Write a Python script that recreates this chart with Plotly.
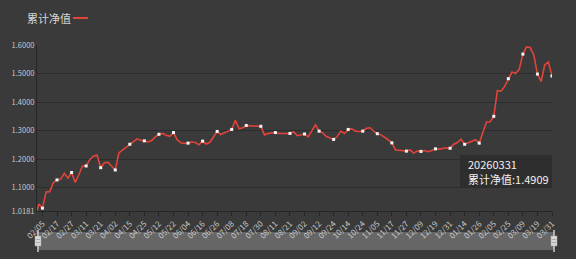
import plotly.graph_objects as go

# ---------------- data ----------------
tick_labels = ["02/05", "02/17", "02/27", "03/11", "03/21", "04/02", "04/15", "04/25",
               "05/12", "05/22", "06/04", "06/16", "06/26", "07/08", "07/18", "07/30",
               "08/11", "08/21", "09/02", "09/12", "09/24", "10/14", "10/24", "11/05",
               "11/17", "11/27", "12/09", "12/19", "12/31", "01/14", "01/26", "02/05",
               "02/25", "03/09", "03/19", "03/31"]

# trading-day index of each sampled value
days = [0] + list(range(1, 284, 2))

nav = [1.0181, 1.043, 1.028, 1.085, 1.086, 1.118, 1.127, 1.130, 1.150, 1.133,
       1.153, 1.118, 1.145, 1.176, 1.176, 1.198, 1.210, 1.214, 1.170, 1.187,
       1.189, 1.176, 1.162, 1.222, 1.232, 1.242, 1.252, 1.264, 1.271, 1.266,
       1.264, 1.260, 1.265, 1.278, 1.287, 1.290, 1.284, 1.280, 1.293, 1.268,
       1.257, 1.255, 1.256, 1.260, 1.258, 1.250, 1.263, 1.253, 1.259, 1.280,
       1.297, 1.286, 1.291, 1.298, 1.304, 1.336, 1.306, 1.310, 1.318, 1.316,
       1.316, 1.315, 1.315, 1.285, 1.290, 1.292, 1.293, 1.290, 1.289, 1.290,
       1.290, 1.296, 1.282, 1.285, 1.288, 1.278, 1.297, 1.320, 1.298, 1.292,
       1.279, 1.273, 1.269, 1.279, 1.298, 1.290, 1.304, 1.306, 1.298, 1.297,
       1.298, 1.308, 1.310, 1.298, 1.289, 1.285, 1.278, 1.268, 1.257, 1.232,
       1.231, 1.230, 1.228, 1.232, 1.221, 1.228, 1.227, 1.230, 1.226, 1.230,
       1.236, 1.235, 1.237, 1.240, 1.238, 1.252, 1.258, 1.270, 1.252, 1.258,
       1.264, 1.268, 1.256, 1.296, 1.330, 1.331, 1.350, 1.440, 1.438, 1.455,
       1.482, 1.505, 1.500, 1.515, 1.568, 1.593, 1.591, 1.565, 1.498, 1.472,
       1.530, 1.540, 1.4909]

y_ticks = [1.0181, 1.1, 1.2, 1.3, 1.4, 1.5, 1.6]
series_name = "累计净值"
last_date = "20260331"

# ---------------- figure ----------------
W, H = 576, 259
L, R, T, B = 37, 24, 45, 48
plot_w = W - L - R
plot_h = H - T - B

def px_x(px):
    return (px - L) / plot_w

def px_y(py):
    return (H - B - py) / plot_h

BG = "#3a3a3a"
RED = "#e2443a"
FONT = "Noto Sans CJK SC, Roboto, sans-serif"

tick_days = [3 + 8 * k for k in range(len(tick_labels))]
mark_x = [d for d in days if (d - 3) % 8 == 0]
mark_y = [v for d, v in zip(days, nav) if (d - 3) % 8 == 0]

fig = go.Figure()
fig.add_trace(go.Scatter(x=days, y=nav, mode="lines", name=series_name,
                         line=dict(color=RED, width=1.6), showlegend=False,
                         hoverinfo="skip"))
fig.add_trace(go.Scatter(x=mark_x, y=mark_y, mode="markers", showlegend=False,
                         marker=dict(symbol="square", size=3, color="#f4f4f4",
                                     line=dict(width=0)),
                         hoverinfo="skip"))

shapes = []
# legend line
shapes.append(dict(type="line", xref="paper", yref="paper",
                   x0=px_x(73), x1=px_x(88), y0=px_y(18), y1=px_y(18),
                   line=dict(color=RED, width=2)))
# tooltip box
shapes.append(dict(type="rect", xref="paper", yref="paper",
                   x0=px_x(460), x1=px_x(552), y0=px_y(188), y1=px_y(155),
                   fillcolor="rgba(44,44,44,0.88)", line=dict(width=0), layer="above"))
# data zoom slider bar
shapes.append(dict(type="rect", xref="paper", yref="paper",
                   x0=px_x(38), x1=px_x(554), y0=px_y(250), y1=px_y(232),
                   fillcolor="#666666", line=dict(width=0), layer="below"))
for hx in (38, 554):
    shapes.append(dict(type="line", xref="paper", yref="paper",
                       x0=px_x(hx), x1=px_x(hx), y0=px_y(252), y1=px_y(230),
                       line=dict(color="#cfcfcf", width=1.5)))
    shapes.append(dict(type="rect", xref="paper", yref="paper",
                       x0=px_x(hx - 3), x1=px_x(hx + 3), y0=px_y(246), y1=px_y(236),
                       fillcolor="#d8d8d8", line=dict(color="#aaaaaa", width=0.5)))
    for ly in (239.5, 242.5):
        shapes.append(dict(type="line", xref="paper", yref="paper",
                           x0=px_x(hx - 2), x1=px_x(hx + 2), y0=px_y(ly), y1=px_y(ly),
                           line=dict(color="#888888", width=0.6)))

annotations = [
    dict(text=series_name, xref="paper", yref="paper", x=px_x(25), y=px_y(18),
         xanchor="left", yanchor="middle", showarrow=False,
         font=dict(family=FONT, size=11, color="#d6d6d6")),
    dict(text=last_date, xref="paper", yref="paper",
         x=px_x(466), y=px_y(164), xanchor="left", yanchor="middle", showarrow=False,
         font=dict(family=FONT, size=11, color="#f0f0f0")),
    dict(text=f"{series_name}:{nav[-1]:.4f}", xref="paper", yref="paper",
         x=px_x(466), y=px_y(179), xanchor="left", yanchor="middle", showarrow=False,
         font=dict(family=FONT, size=11, color="#f0f0f0")),
]

fig.update_layout(
    width=W, height=H,
    margin=dict(l=L, r=R, t=T, b=B),
    paper_bgcolor=BG, plot_bgcolor=BG,
    font=dict(family=FONT, color="#cccccc"),
    shapes=shapes, annotations=annotations,
    xaxis=dict(range=[0, 283], tickvals=tick_days, ticktext=tick_labels,
               tickangle=-45, tickfont=dict(size=8, color="#c8c8c8"),
               showgrid=False, zeroline=False, showline=True,
               linecolor="#262626", linewidth=1, ticks="outside", ticklen=4,
               tickcolor="#262626", fixedrange=True),
    yaxis=dict(range=[y_ticks[0], y_ticks[-1]], tickvals=y_ticks,
               ticktext=[f"{v:.4f}" for v in y_ticks],
               tickfont=dict(size=7.5, color="#c8c8c8"),
               showgrid=True, gridcolor="#2c2c2c", gridwidth=1,
               zeroline=False, showline=True, linecolor="#262626", linewidth=1,
               ticks="", fixedrange=True),
)

fig.write_html("out.html")
